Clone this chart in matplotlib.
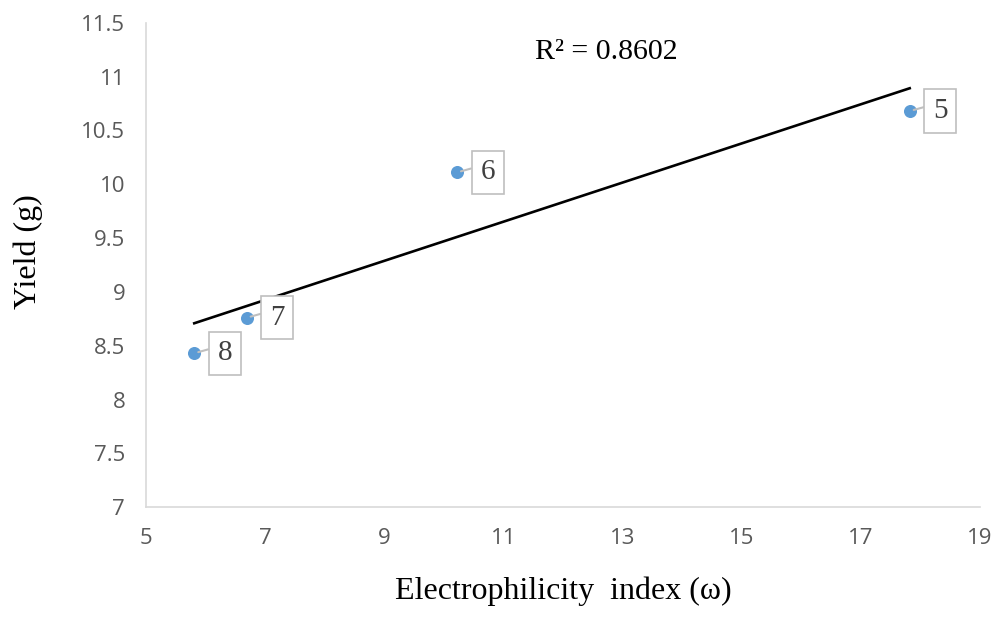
import numpy as np
import matplotlib.pyplot as plt

# 数据：亲电指数与产率
omega = [17.82, 10.22, 6.69, 5.81]
yield_g = [10.68, 10.11, 8.76, 8.43]
labels = ['5', '6', '7', '8']
r2_text = 'R² = 0.8602'

xticks = [5, 7, 9, 11, 13, 15, 17, 19]
yticks = [7, 7.5, 8, 8.5, 9, 9.5, 10, 10.5, 11, 11.5]

serif = ['Liberation Serif', 'DejaVu Serif']

fig = plt.figure(figsize=(10, 6.17), dpi=100)
ax = fig.add_axes([0.146, 0.178, 0.834, 0.785])

# 趋势线（线性拟合）
k, b = np.polyfit(omega, yield_g, 1)
xs = np.array([min(omega), max(omega)])
ax.plot(xs, k * xs + b, color='black', lw=1.9, zorder=2)

ax.scatter(omega, yield_g, s=70, color='#5B9BD5', zorder=3)

for x, y, t in zip(omega, yield_g, labels):
    ax.annotate(t, (x, y), xytext=(22, 0), textcoords='offset points',
                ha='center', va='center', fontsize=21, family=serif, color='#404040',
                bbox=dict(boxstyle='square,pad=0.3', fc='white', ec='#BFBFBF', lw=1.2),
                arrowprops=dict(arrowstyle='-', color='#BFBFBF', lw=1.5,
                                relpos=(0, 0.75), shrinkA=0, shrinkB=3),
                zorder=4)

ax.text(12.72, 11.23, r2_text, ha='center', va='center', fontsize=21.5, family=serif)

ax.set_xlim(5, 19)
ax.set_ylim(7, 11.5)
ax.set_xticks(xticks)
ax.set_yticks(yticks)
ax.set_yticklabels([f'{v:g}' for v in yticks])
ax.tick_params(length=0, labelsize=16, labelcolor='#595959', pad=15)
for lab in ax.get_xticklabels() + ax.get_yticklabels():
    lab.set_family('Open Sans')

for s in ['top', 'right']:
    ax.spines[s].set_visible(False)
for s in ['left', 'bottom']:
    ax.spines[s].set_color('#D9D9D9')
    ax.spines[s].set_linewidth(1.2)

ax.set_xlabel('Electrophilicity  index (ω)', fontsize=23, family=serif, labelpad=20)
ax.set_ylabel('Yield (g)', fontsize=23, family=serif)
ax.yaxis.set_label_coords(-0.124, 0.527)

plt.savefig('out.png')
